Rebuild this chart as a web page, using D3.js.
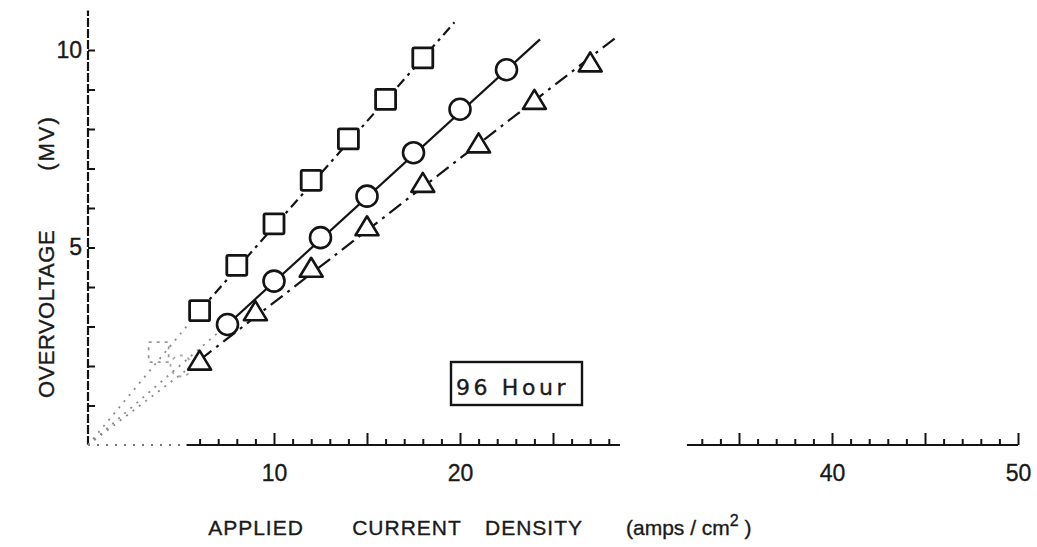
<!DOCTYPE html>
<html><head><meta charset="utf-8">
<script src="https://cdn.jsdelivr.net/npm/d3@7"></script>
<style>
body{margin:0;background:#fff}
svg{display:block}
text{font-family:"Liberation Sans",Arial,sans-serif;fill:#1a1a1a;stroke:#1a1a1a;stroke-width:0.35px}
</style>
</head><body>
<svg id="chart" width="1037" height="547"></svg>
<script>
// ---- data ----
const squareX   = [6, 8, 10, 12, 14, 16, 18];
const squareY   = [3.4, 4.55, 5.6, 6.7, 7.75, 8.75, 9.8];
const circleX   = [7.5, 10, 12.5, 15, 17.5, 20, 22.5];
const circleY   = [3.05, 4.15, 5.25, 6.3, 7.4, 8.5, 9.5];
const triangleX = [6, 9, 12, 15, 18, 21, 24, 27];
const triangleY = [2.15, 3.4, 4.5, 5.55, 6.65, 7.65, 8.75, 9.7];
// faded (barely printed) points near the origin
const faintSquare = [3.8, 2.35];
const faintCircle = [5, 2.0];
// where each drawn line starts and stops
const lineOrigin  = [0, 0];
const squareEnd   = [19.7, 10.7];
const circleEnd   = [24.3, 10.27];
const triangleEnd = [28.45, 10.34];
// axes
const xTickLabels = [10, 20, 40, 50];
const yTickLabels = [5, 10];
const xAxisSegments = [[5.3, 28.6], [32.2, 50]];
const xFadedSegment = [0, 5.3];
const yTitle = "OVERVOLTAGE";
const yUnit = "(MV)";
const xTitleWords = ["APPLIED", "CURRENT", "DENSITY"];
const xUnit = ["(amps / cm", "2", " )"];
const annotation = "96 Hour";

// ---- drawing ----
const svg = d3.select("#chart");
const x = d3.scaleLinear().domain([0, 50]).range([88, 1018]);
const y = d3.scaleLinear().domain([0, 11]).range([445, 10.5]);
const ink = "#141414";

// X axis (broken), ticks pointing up
const xa = svg.append("g").attr("transform", `translate(0,${y(0)})`);
xAxisSegments.forEach(([a, b]) => {
  const g = xa.append("g");
  g.append("line").attr("x1", x(a)).attr("x2", x(b)).attr("stroke", ink).attr("stroke-width", 2);
  const minor = d3.range(Math.ceil(a), Math.floor(b) + 1).filter(v => v % 5 !== 0);
  const major = d3.range(Math.ceil(a), Math.floor(b) + 1).filter(v => v % 5 === 0);
  g.append("g").call(d3.axisTop(x).tickValues(minor).tickSize(6).tickFormat(""))
    .call(s => s.select(".domain").remove())
    .selectAll("line").attr("stroke", ink).attr("stroke-width", 2);
  g.append("g").call(d3.axisTop(x).tickValues(major).tickSize(12).tickFormat(""))
    .call(s => s.select(".domain").remove())
    .selectAll("line").attr("stroke", ink).attr("stroke-width", 2);
});
xa.append("line").attr("x1", x(xFadedSegment[0])).attr("x2", x(xFadedSegment[1]))
  .attr("stroke", "#777").attr("stroke-width", 2).attr("stroke-dasharray", "2,7");

xa.append("g").call(d3.axisBottom(x).tickValues(xTickLabels).tickSize(0).tickPadding(20))
  .call(s => s.select(".domain").remove())
  .selectAll("text").style("font-size", "23px").style("font-family", '"Liberation Sans",Arial,sans-serif').attr("fill", ink);

// Y axis, ticks pointing right
const ya = svg.append("g").attr("transform", `translate(${x(0)},0)`);
ya.append("line").attr("y1", y(0)).attr("y2", y(11)).attr("stroke", ink).attr("stroke-width", 2.2)
  .attr("stroke-dasharray", "9,2");
ya.append("g").call(d3.axisRight(y).tickValues(d3.range(1, 11)).tickSize(7).tickFormat(""))
  .call(s => s.select(".domain").remove())
  .selectAll("line").attr("stroke", ink).attr("stroke-width", 2);
ya.append("g").call(d3.axisLeft(y).tickValues(yTickLabels).tickSize(0).tickPadding(6))
  .call(s => s.select(".domain").remove())
  .selectAll("text").style("font-size", "23px").style("font-family", '"Liberation Sans",Arial,sans-serif').attr("fill", ink);

// Lines
const line = d3.line().x(d => x(d[0])).y(d => y(d[1]));
const zip = (xs, ys) => xs.map((v, i) => [v, ys[i]]);
const series = [
  {pts: zip(squareX, squareY), end: squareEnd, dash: "10,5,3,5"},
  {pts: zip(circleX, circleY), end: circleEnd, dash: null},
  {pts: zip(triangleX, triangleY), end: triangleEnd, dash: "15,6,3,6"}
];
series.forEach(s => {
  svg.append("path").attr("d", line([lineOrigin, s.pts[0]]))
    .attr("fill", "none").attr("stroke", "#8a8a8a").attr("stroke-width", 1.8)
    .attr("stroke-dasharray", "2,6");
  svg.append("path").attr("d", line([s.pts[0], s.end]))
    .attr("fill", "none").attr("stroke", ink).attr("stroke-width", 2.2)
    .attr("stroke-dasharray", s.dash);
});

// faint markers
svg.append("rect").attr("x", x(faintSquare[0]) - 10).attr("y", y(faintSquare[1]) - 10)
  .attr("width", 20).attr("height", 20).attr("fill", "none").attr("stroke", "#999")
  .attr("stroke-width", 1.8).attr("stroke-dasharray", "3,5");
svg.append("circle").attr("cx", x(faintCircle[0])).attr("cy", y(faintCircle[1])).attr("r", 10.5)
  .attr("fill", "none").attr("stroke", "#aaa").attr("stroke-width", 1.8).attr("stroke-dasharray", "3,5");

// markers
svg.append("g").selectAll("rect").data(zip(squareX, squareY)).join("rect")
  .attr("x", d => x(d[0]) - 10).attr("y", d => y(d[1]) - 10)
  .attr("width", 20).attr("height", 20).attr("rx", 1.5)
  .attr("fill", "#fff").attr("stroke", ink).attr("stroke-width", 2.8);
svg.append("g").selectAll("circle").data(zip(circleX, circleY)).join("circle")
  .attr("cx", d => x(d[0])).attr("cy", d => y(d[1])).attr("r", 10.5)
  .attr("fill", "#fff").attr("stroke", ink).attr("stroke-width", 2.6);
const tw = 23, th = 19;
svg.append("g").selectAll("path").data(zip(triangleX, triangleY)).join("path")
  .attr("d", d => {
    const cx = x(d[0]), cy = y(d[1]);
    return `M${cx},${cy - th / 2}L${cx + tw / 2},${cy + th / 2}L${cx - tw / 2},${cy + th / 2}Z`;
  })
  .attr("fill", "#fff").attr("stroke", ink).attr("stroke-width", 2.6).attr("stroke-linejoin", "round");

// annotation box
const ann = svg.append("g");
ann.append("rect").attr("x", 451).attr("y", 362).attr("width", 131).attr("height", 43)
  .attr("fill", "#fff").attr("stroke", ink).attr("stroke-width", 2.4);
ann.append("text").attr("x", 456).attr("y", 395)
  .style("font-family", '"DejaVu Sans",sans-serif').style("font-size", "22px")
  .style("letter-spacing", "3.6px").attr("fill", ink).text(annotation);

// axis titles
svg.append("text").attr("transform", "translate(46,314) rotate(-90)")
  .attr("text-anchor", "middle").attr("dominant-baseline", "central")
  .style("font-size", "22px").style("letter-spacing", "0.5px").text(yTitle);
svg.append("text").attr("transform", "translate(46,143) rotate(-90)")
  .attr("text-anchor", "middle").attr("dominant-baseline", "central")
  .style("font-size", "22px").style("letter-spacing", "2px").text(yUnit);

const wordX = [256, 407, 534];
xTitleWords.forEach((w, i) => {
  svg.append("text").attr("x", wordX[i]).attr("y", 535).attr("text-anchor", "middle")
    .style("font-size", "21px").style("letter-spacing", "1px").text(w);
});
const u = svg.append("text").attr("x", 626).attr("y", 535).style("font-size", "21px");
u.append("tspan").text(xUnit[0]);
u.append("tspan").attr("dy", -9).style("font-size", "16px").text(xUnit[1]);
u.append("tspan").attr("dy", 9).text(xUnit[2]);
</script>
</body></html>
